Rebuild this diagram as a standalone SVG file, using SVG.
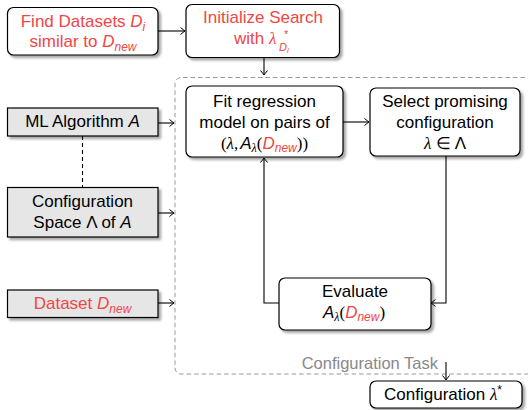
<svg xmlns="http://www.w3.org/2000/svg" width="528" height="410" viewBox="0 0 528 410">
<style>
text{font-family:"Liberation Sans",Arial,sans-serif;font-size:17px;fill:#000}
.red{fill:#f04646}
.it{font-style:italic}
.sub{font-style:italic;font-size:12px}
.m{font-family:"Liberation Serif","Times New Roman",serif}
.mi{font-family:"Liberation Serif","Times New Roman",serif;font-style:italic}
.box{fill:#fff;stroke:#000;stroke-width:1.2}
.gbox{fill:#e6e6e6;stroke:#000;stroke-width:1.2}
.conn{fill:none;stroke:#000;stroke-width:1.1}
</style>
<defs>
<filter id="sh" x="-10%" y="-20%" width="130%" height="150%">
<feDropShadow dx="2.5" dy="2.5" stdDeviation="0.8" flood-color="#000" flood-opacity="0.35"/>
</filter>
<marker id="ah" viewBox="-6 -5 8 10" refX="0" refY="0" markerWidth="8" markerHeight="10" orient="auto" markerUnits="userSpaceOnUse">
<path d="M-4.5,-3.5 Q-1.5,-1 0,0 Q-1.5,1 -4.5,3.5" fill="none" stroke="#000" stroke-width="1"/>
</marker>
</defs>

<g id="config-task-frame">
<path d="M540,77.5 H181 A6,6 0 0 0 175,83.5 V368 A6,6 0 0 0 181,374 H540" fill="none" stroke="#999" stroke-width="1" stroke-dasharray="4.5,3"/>
<text x="438" y="369" text-anchor="end" style="font-size:16.5px;fill:#888">Configuration Task</text>
</g>

<g id="connectors">
<line class="conn" x1="158" y1="31" x2="185" y2="31" marker-end="url(#ah)"/>
<line class="conn" x1="264" y1="58" x2="264" y2="75" marker-end="url(#ah)"/>
<line class="conn" x1="158" y1="123" x2="174" y2="123" marker-end="url(#ah)"/>
<line class="conn" x1="158" y1="213" x2="174" y2="213" marker-end="url(#ah)"/>
<line class="conn" x1="158" y1="303" x2="174" y2="303" marker-end="url(#ah)"/>
<line class="conn" x1="82.5" y1="136" x2="82.5" y2="187" stroke-dasharray="4,3"/>
<line class="conn" x1="343" y1="122" x2="369" y2="122" marker-end="url(#ah)"/>
<polyline class="conn" points="446,156 446,303 431,303" marker-end="url(#ah)"/>
<polyline class="conn" points="279,303 264,303 264,158" marker-end="url(#ah)"/>
<line class="conn" x1="446" y1="362" x2="446" y2="380" marker-end="url(#ah)"/>
</g>

<g id="find-datasets">
<rect class="box" x="7.5" y="7.5" width="150.5" height="47.5" rx="6" filter="url(#sh)"/>
<text x="83" y="27" text-anchor="middle" class="red">Find Datasets <tspan class="it">D</tspan><tspan class="sub" dy="4">i</tspan></text>
<text x="83" y="47" text-anchor="middle" class="red">similar to <tspan class="it">D</tspan><tspan class="sub" dy="4">new</tspan></text>
</g>

<g id="initialize-search">
<rect class="box" x="186" y="4.5" width="153.5" height="53" rx="6" filter="url(#sh)"/>
<text x="263" y="23" text-anchor="middle" class="red">Initialize Search</text>
<text x="234" y="44" class="red">with <tspan class="mi">λ</tspan></text>
<text x="284" y="38" class="red" style="font-size:11px">*</text>
<text x="279" y="51" class="red" style="font-size:11px;font-style:italic">D<tspan style="font-size:8px" dy="2">i</tspan></text>
</g>

<g id="ml-algorithm">
<rect class="gbox" x="7.5" y="108" width="150.5" height="28" filter="url(#sh)"/>
<text x="82.5" y="127" text-anchor="middle">ML Algorithm <tspan class="it">A</tspan></text>
</g>

<g id="configuration-space">
<rect class="gbox" x="7.5" y="187.5" width="150.5" height="49.5" filter="url(#sh)"/>
<text x="82.5" y="207" text-anchor="middle">Configuration</text>
<text x="82.5" y="228" text-anchor="middle">Space Λ of <tspan class="it">A</tspan></text>
</g>

<g id="dataset">
<rect class="gbox" x="7.5" y="290" width="150.5" height="27.5" filter="url(#sh)"/>
<text x="82.5" y="309" text-anchor="middle" class="red">Dataset <tspan class="it">D</tspan><tspan class="sub" dy="4">new</tspan></text>
</g>

<g id="fit-regression">
<rect class="box" x="186" y="86" width="157" height="71" rx="6" filter="url(#sh)"/>
<text x="264.5" y="107" text-anchor="middle">Fit regression</text>
<text x="264.5" y="128" text-anchor="middle">model on pairs of</text>
<text x="264.5" y="149" text-anchor="middle"><tspan class="m">(</tspan><tspan class="mi">λ</tspan><tspan class="m">,</tspan><tspan class="it" dx="2">A</tspan><tspan class="mi" style="font-size:12px" dy="3">λ</tspan><tspan class="m" dy="-3">(</tspan><tspan class="it red">D</tspan><tspan class="sub red" dy="3">new</tspan><tspan class="m" dy="-3">))</tspan></text>
</g>

<g id="select-configuration">
<rect class="box" x="370" y="88" width="150" height="68" rx="6" filter="url(#sh)"/>
<text x="445" y="107" text-anchor="middle">Select promising</text>
<text x="445" y="128" text-anchor="middle">configuration</text>
<text x="445" y="149" text-anchor="middle"><tspan class="mi">λ</tspan><tspan class="m"> ∈ </tspan>Λ</text>
</g>

<g id="evaluate">
<rect class="box" x="279" y="278" width="152" height="52" rx="6" filter="url(#sh)"/>
<text x="355" y="297" text-anchor="middle">Evaluate</text>
<text x="354" y="318" text-anchor="middle"><tspan class="it">A</tspan><tspan class="mi" style="font-size:12px" dy="3">λ</tspan><tspan class="m" dy="-3">(</tspan><tspan class="it red">D</tspan><tspan class="sub red" dy="3">new</tspan><tspan class="m" dy="-3">)</tspan></text>
</g>

<g id="configuration-result">
<rect class="box" x="370" y="381" width="152" height="27" rx="6" filter="url(#sh)"/>
<text x="443" y="400" text-anchor="middle">Configuration <tspan class="mi">λ</tspan><tspan style="font-size:12px" dy="-6">*</tspan></text>
</g>
</svg>
